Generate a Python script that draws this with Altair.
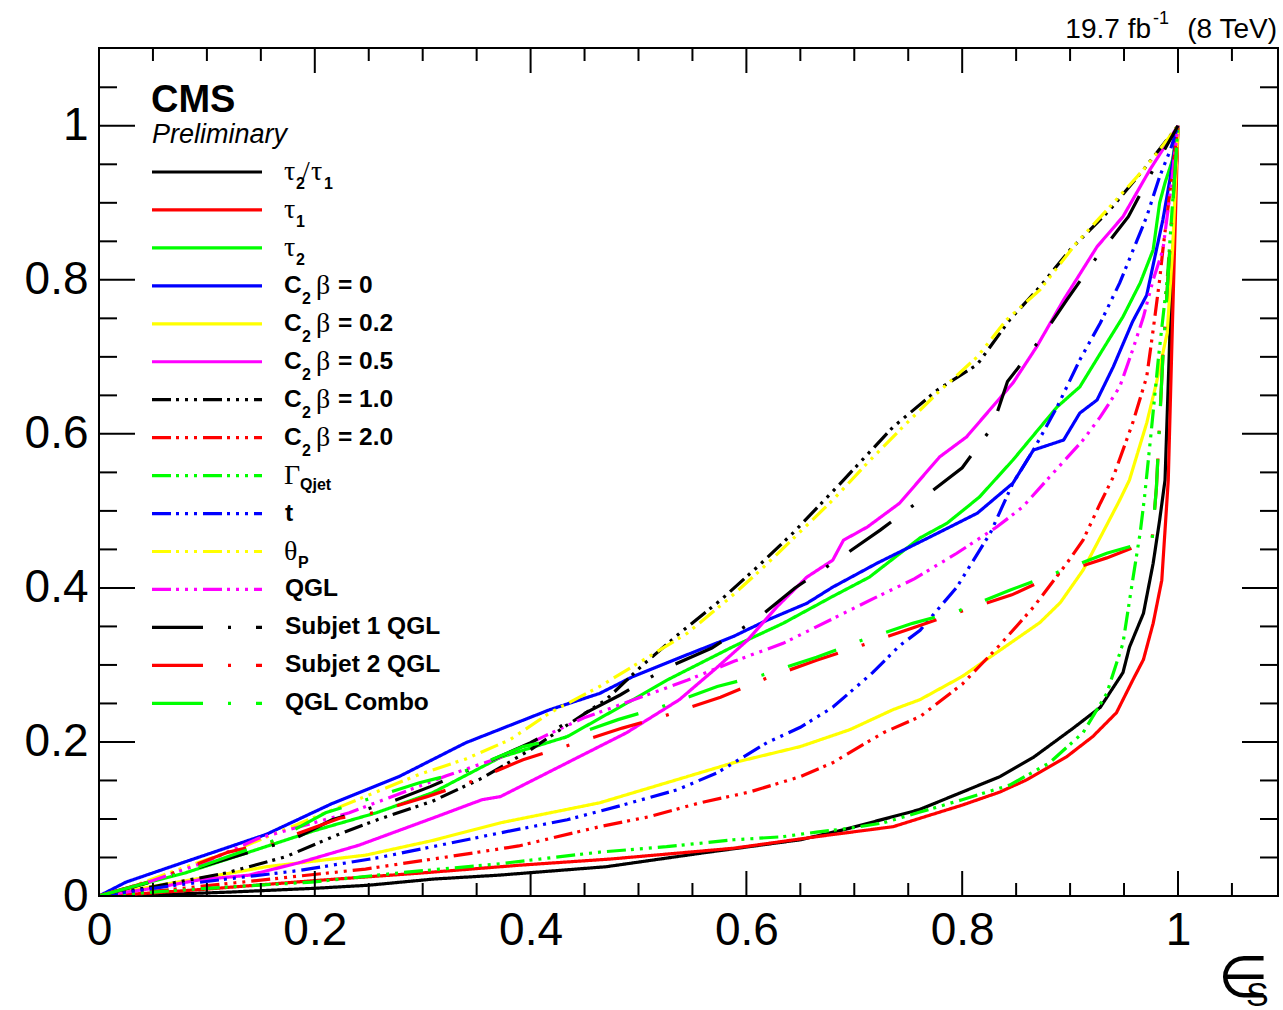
import altair as alt
import pandas as pd

# ---------------- data ----------------
names = ["tau21", "tau1", "tau2", "C2b0", "C2b02", "C2b05", "C2b10", "C2b20",
         "GQjet", "t", "thetaP", "QGL", "Subjet1", "Subjet2", "QGLCombo"]
colors = ["#000000", "#ff0000", "#00ff00", "#0000ff", "#ffff00", "#ff00ff",
          "#000000", "#ff0000", "#00ff00", "#0000ff", "#ffff00", "#ff00ff",
          "#000000", "#ff0000", "#00ff00"]

tau21_x = [0, 0.06, 0.12, 0.2, 0.25, 0.31, 0.37, 0.47, 0.56, 0.65, 0.69, 0.76, 0.835, 0.866, 0.903, 0.928, 0.949, 0.955, 0.968, 0.977, 0.983, 0.988, 0.993, 1.0]
tau21_y = [0, 0.002, 0.005, 0.01, 0.014, 0.022, 0.027, 0.038, 0.056, 0.073, 0.086, 0.112, 0.155, 0.18, 0.218, 0.245, 0.29, 0.323, 0.367, 0.432, 0.488, 0.54, 0.75, 1.0]

tau1_x = [0, 0.05, 0.1, 0.2, 0.3, 0.39, 0.474, 0.588, 0.665, 0.736, 0.761, 0.8, 0.835, 0.86, 0.897, 0.921, 0.943, 0.958, 0.968, 0.977, 0.985, 0.988, 0.991, 0.995, 1.0]
tau1_y = [0, 0.004, 0.009, 0.02, 0.03, 0.04, 0.048, 0.062, 0.077, 0.09, 0.101, 0.118, 0.135, 0.151, 0.181, 0.207, 0.238, 0.28, 0.307, 0.354, 0.41, 0.475, 0.54, 0.75, 1.0]

tau2_x = [0, 0.03, 0.08, 0.15, 0.2, 0.257, 0.309, 0.372, 0.434, 0.495, 0.526, 0.588, 0.634, 0.68, 0.714, 0.761, 0.786, 0.816, 0.847, 0.888, 0.909, 0.934, 0.949, 0.965, 0.977, 0.983, 0.988, 0.995, 1.0]
tau2_y = [0, 0.012, 0.03, 0.062, 0.085, 0.108, 0.134, 0.18, 0.207, 0.255, 0.28, 0.324, 0.354, 0.389, 0.414, 0.465, 0.484, 0.518, 0.566, 0.635, 0.661, 0.718, 0.752, 0.796, 0.839, 0.9, 0.926, 0.956, 1.0]

c200_x = [0, 0.025, 0.077, 0.155, 0.216, 0.278, 0.34, 0.389, 0.418, 0.464, 0.495, 0.541, 0.588, 0.619, 0.656, 0.68, 0.721, 0.77, 0.814, 0.847, 0.866, 0.894, 0.909, 0.925, 0.94, 0.958, 0.971, 0.98, 0.986, 0.993, 1.0]
c200_y = [0, 0.018, 0.043, 0.08, 0.12, 0.155, 0.199, 0.226, 0.242, 0.263, 0.285, 0.311, 0.337, 0.358, 0.38, 0.401, 0.432, 0.466, 0.497, 0.536, 0.579, 0.592, 0.627, 0.644, 0.687, 0.746, 0.78, 0.839, 0.878, 0.934, 1.0]

c202_x = [0, 0.06, 0.123, 0.155, 0.247, 0.309, 0.372, 0.464, 0.526, 0.588, 0.65, 0.696, 0.736, 0.761, 0.8, 0.835, 0.872, 0.891, 0.912, 0.93, 0.946, 0.955, 0.971, 0.98, 0.99, 0.995, 1.0]
c202_y = [0, 0.015, 0.03, 0.038, 0.053, 0.072, 0.095, 0.121, 0.147, 0.173, 0.194, 0.216, 0.242, 0.255, 0.285, 0.319, 0.355, 0.381, 0.423, 0.471, 0.514, 0.54, 0.614, 0.666, 0.731, 0.839, 1.0]

c205_x = [0, 0.05, 0.093, 0.139, 0.185, 0.241, 0.309, 0.355, 0.372, 0.434, 0.489, 0.538, 0.573, 0.601, 0.628, 0.656, 0.68, 0.69, 0.712, 0.742, 0.779, 0.804, 0.847, 0.869, 0.894, 0.925, 0.949, 0.974, 1.0]
c205_y = [0, 0.01, 0.021, 0.027, 0.043, 0.066, 0.101, 0.125, 0.129, 0.173, 0.212, 0.255, 0.297, 0.332, 0.375, 0.414, 0.436, 0.462, 0.479, 0.51, 0.57, 0.596, 0.666, 0.713, 0.774, 0.843, 0.882, 0.943, 1.0]

c210_x = [0, 0.05, 0.118, 0.173, 0.222, 0.26, 0.309, 0.355, 0.4, 0.434, 0.47, 0.504, 0.538, 0.576, 0.61, 0.643, 0.69, 0.736, 0.777, 0.814, 0.844, 0.872, 0.9, 0.937, 0.968, 1.0]
c210_y = [0, 0.012, 0.03, 0.051, 0.08, 0.1, 0.123, 0.153, 0.19, 0.222, 0.255, 0.3, 0.341, 0.384, 0.427, 0.471, 0.54, 0.609, 0.657, 0.69, 0.748, 0.791, 0.839, 0.891, 0.943, 1.0]

c220_x = [0, 0.05, 0.139, 0.247, 0.324, 0.389, 0.464, 0.51, 0.557, 0.603, 0.65, 0.68, 0.705, 0.727, 0.761, 0.8, 0.835, 0.866, 0.897, 0.912, 0.928, 0.94, 0.958, 0.971, 0.977, 0.983, 0.986, 1.0]
c220_y = [0, 0.006, 0.019, 0.035, 0.051, 0.065, 0.09, 0.103, 0.121, 0.135, 0.155, 0.173, 0.194, 0.212, 0.233, 0.275, 0.326, 0.375, 0.432, 0.462, 0.51, 0.544, 0.614, 0.674, 0.735, 0.8, 0.839, 1.0]

gq_x = [0, 0.05, 0.1, 0.148, 0.197, 0.278, 0.372, 0.464, 0.526, 0.588, 0.634, 0.665, 0.696, 0.727, 0.761, 0.8, 0.844, 0.881, 0.912, 0.934, 0.949, 0.958, 0.965, 0.969, 0.975, 0.982, 0.99, 0.995, 1.0]
gq_y = [0, 0.005, 0.01, 0.014, 0.018, 0.03, 0.042, 0.057, 0.064, 0.073, 0.077, 0.083, 0.088, 0.095, 0.109, 0.125, 0.144, 0.173, 0.212, 0.263, 0.328, 0.41, 0.472, 0.518, 0.6, 0.7, 0.8, 0.9, 1.0]

t_x = [0, 0.071, 0.136, 0.185, 0.216, 0.26, 0.309, 0.372, 0.434, 0.48, 0.536, 0.573, 0.619, 0.65, 0.68, 0.717, 0.742, 0.761, 0.795, 0.826, 0.847, 0.866, 0.888, 0.909, 0.928, 0.946, 0.971, 0.983, 0.993, 1.0]
t_y = [0, 0.014, 0.025, 0.033, 0.04, 0.05, 0.064, 0.082, 0.099, 0.116, 0.138, 0.16, 0.199, 0.219, 0.245, 0.29, 0.325, 0.345, 0.401, 0.471, 0.536, 0.579, 0.635, 0.696, 0.744, 0.796, 0.882, 0.934, 0.969, 1.0]

tp_x = [0, 0.03, 0.077, 0.13, 0.182, 0.262, 0.297, 0.34, 0.381, 0.418, 0.464, 0.504, 0.545, 0.582, 0.613, 0.647, 0.68, 0.712, 0.745, 0.777, 0.814, 0.841, 0.872, 0.906, 0.937, 0.968, 0.983, 1.0]
tp_y = [0, 0.012, 0.036, 0.062, 0.092, 0.138, 0.158, 0.178, 0.203, 0.238, 0.272, 0.306, 0.341, 0.384, 0.423, 0.469, 0.514, 0.562, 0.609, 0.653, 0.7, 0.748, 0.787, 0.848, 0.895, 0.943, 0.969, 1.0]

qgl_x = [0, 0.05, 0.1, 0.148, 0.232, 0.322, 0.372, 0.412, 0.449, 0.5, 0.545, 0.589, 0.634, 0.68, 0.719, 0.756, 0.795, 0.832, 0.856, 0.881, 0.912, 0.928, 0.946, 0.958, 0.968, 0.977, 0.986, 0.994, 1.0]
qgl_y = [0, 0.02, 0.045, 0.075, 0.108, 0.156, 0.18, 0.207, 0.231, 0.257, 0.28, 0.305, 0.328, 0.36, 0.387, 0.412, 0.445, 0.479, 0.505, 0.544, 0.592, 0.622, 0.661, 0.709, 0.752, 0.8, 0.839, 0.926, 1.0]

s1_x = [0, 0.04, 0.09, 0.13, 0.179, 0.216, 0.27, 0.307, 0.36, 0.4, 0.443, 0.483, 0.526, 0.568, 0.611, 0.645, 0.687, 0.724, 0.764, 0.8, 0.828, 0.842, 0.872, 0.897, 0.925, 0.954, 0.977, 1.0]
s1_y = [0, 0.015, 0.036, 0.053, 0.073, 0.099, 0.122, 0.142, 0.174, 0.199, 0.232, 0.261, 0.296, 0.322, 0.361, 0.4, 0.439, 0.475, 0.517, 0.556, 0.609, 0.668, 0.722, 0.774, 0.83, 0.882, 0.943, 1.0]

s2_x = [0, 0.05, 0.12, 0.164, 0.223, 0.254, 0.304, 0.344, 0.393, 0.436, 0.485, 0.52, 0.576, 0.619, 0.665, 0.708, 0.754, 0.798, 0.846, 0.886, 0.934, 0.976, 0.98, 0.986, 0.992, 1.0]
s2_y = [0, 0.02, 0.057, 0.071, 0.101, 0.108, 0.129, 0.148, 0.177, 0.196, 0.218, 0.232, 0.258, 0.283, 0.306, 0.326, 0.348, 0.369, 0.391, 0.417, 0.439, 0.462, 0.53, 0.7, 0.83, 1.0]

qc_x = [0, 0.031, 0.077, 0.123, 0.164, 0.21, 0.241, 0.297, 0.337, 0.393, 0.436, 0.481, 0.52, 0.573, 0.615, 0.665, 0.707, 0.754, 0.798, 0.844, 0.886, 0.934, 0.976, 0.98, 0.986, 0.992, 1.0]
qc_y = [0, 0.012, 0.03, 0.053, 0.073, 0.108, 0.122, 0.147, 0.161, 0.194, 0.207, 0.229, 0.245, 0.272, 0.287, 0.31, 0.332, 0.354, 0.371, 0.397, 0.419, 0.445, 0.462, 0.53, 0.7, 0.83, 1.0]

series = [(tau21_x, tau21_y), (tau1_x, tau1_y), (tau2_x, tau2_y),
          (c200_x, c200_y), (c202_x, c202_y), (c205_x, c205_y),
          (c210_x, c210_y), (c220_x, c220_y), (gq_x, gq_y), (t_x, t_y),
          (tp_x, tp_y), (qgl_x, qgl_y), (s1_x, s1_y), (s2_x, s2_y), (qc_x, qc_y)]

x_major = [0, 0.2, 0.4, 0.6, 0.8, 1.0]
x_minor = [0.05, 0.1, 0.15, 0.25, 0.3, 0.35, 0.45, 0.5, 0.55, 0.65, 0.7, 0.75, 0.85, 0.9, 0.95, 1.05]
y_major = [0, 0.2, 0.4, 0.6, 0.8, 1.0]
y_minor = [0.05, 0.1, 0.15, 0.25, 0.3, 0.35, 0.45, 0.5, 0.55, 0.65, 0.7, 0.75, 0.85, 0.9, 0.95, 1.05]

# ---------------- layout helpers ----------------
W, H = 1179, 848
XMAX, YMAX = 1.0927, 1.101
L0, T0 = 99, 48


def fx(px):
    return (px - L0) / (W / XMAX)


def fy(py):
    return (T0 + H - py) / (H / YMAX)


SOLID = [1, 0]
DDD = [19, 5, 3, 6, 3, 6, 3, 6]
LDD = [51, 25, 3, 25]
dashes = [SOLID] * 6 + [DDD] * 6 + [LDD] * 3

rows = []
for nm, (xs, ys) in zip(names, series):
    for i, (a, b) in enumerate(zip(xs, ys)):
        rows.append(dict(name=nm, seg=nm, x=a, y=b, i=i))
row_y = [172 + 37.95 * k for k in range(len(names))]
for k, nm in enumerate(names):
    rows.append(dict(name=nm, seg=nm + "_leg", x=fx(152), y=fy(row_y[k]), i=0))
    rows.append(dict(name=nm, seg=nm + "_leg", x=fx(262), y=fy(row_y[k]), i=1))
df = pd.DataFrame(rows)

xscale = alt.Scale(domain=[0, XMAX], nice=False, zero=False)
yscale = alt.Scale(domain=[0, YMAX], nice=False, zero=False)
xaxis = alt.Axis(values=x_major, format="~g", ticks=False, tickSize=0, domain=False, grid=False,
                 labelFontSize=46, labelFont="Liberation Sans", labelColor="black",
                 labelPadding=12, labelFlush=False, labelOverlap=False, title=None)
yaxis = alt.Axis(values=y_major, format="~g", ticks=False, tickSize=0, domain=False, grid=False,
                 labelFontSize=46, labelFont="Liberation Sans", labelColor="black",
                 labelPadding=11, labelFlush=False, labelOverlap=False, title=None)


def X(f="x"):
    return alt.X(f + ":Q", scale=xscale, axis=xaxis)


def Y(f="y"):
    return alt.Y(f + ":Q", scale=yscale, axis=yaxis)


lines = alt.Chart(df).mark_line(strokeWidth=3.2, clip=True).encode(
    x=X(), y=Y(),
    color=alt.Color("name:N", scale=alt.Scale(domain=names, range=colors), legend=None),
    strokeDash=alt.StrokeDash("name:N", scale=alt.Scale(domain=names, range=dashes), legend=None),
    detail="seg:N",
    order="i:Q",
)

# ticks (inward, ROOT style)
def xt(vals, L, top):
    d = pd.DataFrame({"x": vals})
    if top:
        return alt.Chart(d).mark_rule(color="black", strokeWidth=2).encode(
            x=X(), y=alt.value(0), y2=alt.value(L))
    return alt.Chart(d).mark_rule(color="black", strokeWidth=2).encode(
        x=X(), y=alt.value(H), y2=alt.value(H - L))


def yt(vals, L, right):
    d = pd.DataFrame({"y": vals})
    if right:
        return alt.Chart(d).mark_rule(color="black", strokeWidth=2).encode(
            y=Y(), x=alt.value(W), x2=alt.value(W - L))
    return alt.Chart(d).mark_rule(color="black", strokeWidth=2).encode(
        y=Y(), x=alt.value(0), x2=alt.value(L))


ticks = [xt(x_major, 25, False), xt(x_minor, 13, False), xt(x_major, 25, True), xt(x_minor, 13, True),
         yt(y_major, 36, False), yt(y_minor, 18, False), yt(y_major, 36, True), yt(y_minor, 18, True)]

# ---------------- text pieces ----------------
pieces = []


def P(text, xpx, ypx, style):
    pieces.append(dict(t=text, x=fx(xpx), y=fy(ypx), style=style))


# legend labels
P("τ", 284, row_y[0], "serif"); P("2", 296, row_y[0] + 12, "sub"); P("/", 302, row_y[0], "serif")
P("τ", 311, row_y[0], "serif"); P("1", 324, row_y[0] + 12, "sub")
P("τ", 284, row_y[1], "serif"); P("1", 296, row_y[1] + 12, "sub")
P("τ", 284, row_y[2], "serif"); P("2", 296, row_y[2] + 12, "sub")
for k, v in zip(range(3, 8), ["0", "0.2", "0.5", "1.0", "2.0"]):
    P("C", 284, row_y[k], "bold"); P("2", 302, row_y[k] + 13, "sub")
    P("β", 316, row_y[k], "serif"); P("= " + v, 338, row_y[k], "bold")
P("Γ", 284, row_y[8], "serif"); P("Qjet", 300, row_y[8] + 9, "sub")
P("t", 285, row_y[9], "bold")
P("θ", 284, row_y[10], "serif"); P("P", 298, row_y[10] + 11, "sub")
P("QGL", 285, row_y[11], "bold")
P("Subjet 1 QGL", 285, row_y[12], "bold")
P("Subjet 2 QGL", 285, row_y[13], "bold")
P("QGL Combo", 285, row_y[14], "bold")
# headers
P("CMS", 151, 112, "cms")
P("Preliminary", 152, 143, "prelim")
P("19.7 fb", 1151, 38, "lumi_r")
P("-1", 1153, 24, "lumisup")
P("(8 TeV)", 1277, 38, "lumi_r")
P("∈", 1218, 997, "eps")
P("S", 1246, 1006, "epsS")
pdf = pd.DataFrame(pieces)

styles = {
    "bold": dict(font="Liberation Sans", fontWeight="bold", fontSize=24.5, align="left", baseline="middle"),
    "sub": dict(font="Liberation Sans", fontWeight="bold", fontSize=16, align="left", baseline="middle"),
    "serif": dict(font="Liberation Serif", fontWeight="normal", fontSize=28, align="left", baseline="middle"),
    "cms": dict(font="Liberation Sans", fontWeight="bold", fontSize=38, align="left", baseline="alphabetic"),
    "prelim": dict(font="Liberation Sans", fontStyle="italic", fontSize=27, align="left", baseline="alphabetic"),
    "lumi_r": dict(font="Liberation Sans", fontSize=28, align="right", baseline="alphabetic"),
    "lumisup": dict(font="Liberation Sans", fontSize=18, align="left", baseline="alphabetic"),
    "eps": dict(font="DejaVu Sans", fontSize=58, align="left", baseline="alphabetic"),
    "epsS": dict(font="Liberation Sans", fontSize=34, align="left", baseline="alphabetic"),
}
texts = []
for st, props in styles.items():
    sub = pdf[pdf["style"] == st]
    texts.append(alt.Chart(sub).mark_text(color="black", **props).encode(x=X(), y=Y(), text="t:N"))

chart = alt.layer(lines, *ticks, *texts).properties(
    width=W, height=H,
    autosize=alt.AutoSizeParams(type="none"),
    padding={"left": L0, "top": T0, "right": 5, "bottom": 114},
    background="white",
).configure_view(stroke="black", strokeWidth=2)

chart.save("out.html", embed_options={"renderer": "svg", "actions": False})
